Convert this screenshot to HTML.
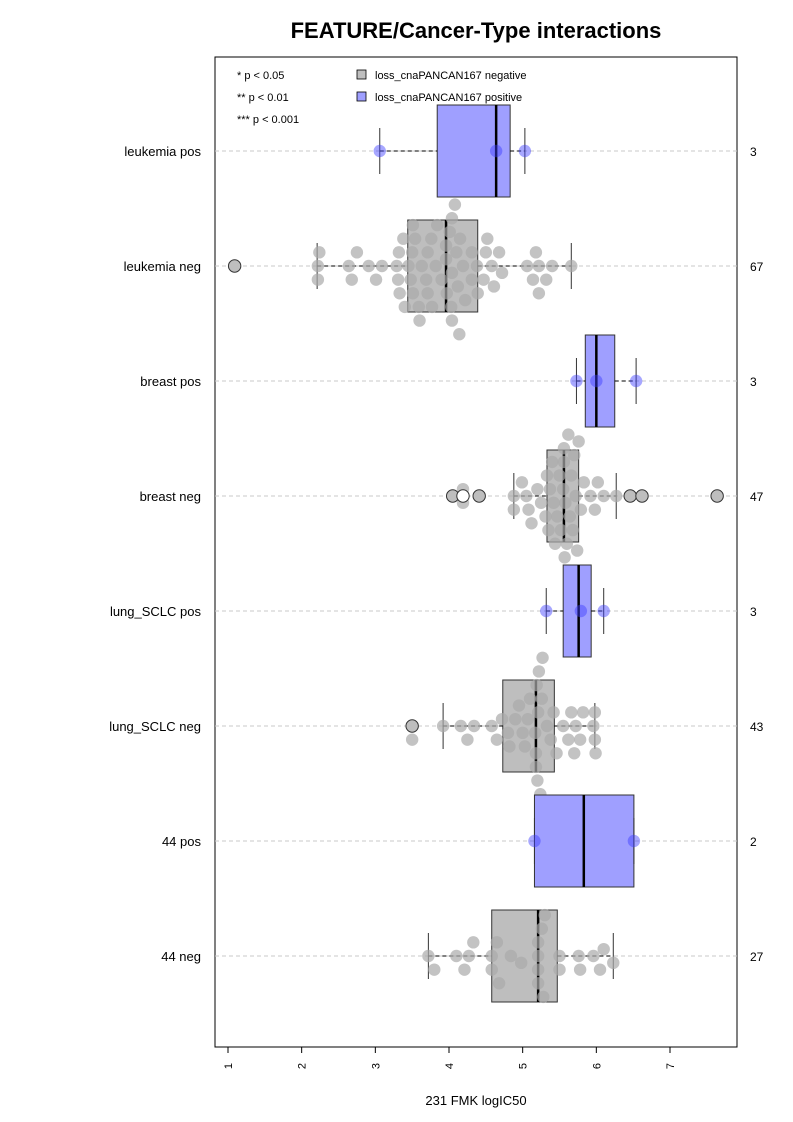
<!DOCTYPE html>
<html><head><meta charset="utf-8"><style>
body{margin:0;background:#fff;}
svg{display:block;font-family:"Liberation Sans",Arial,sans-serif;}
</style></head><body>
<svg id="chart" width="793" height="1122" viewBox="0 0 793 1122">
<text x="476" y="38" text-anchor="middle" font-size="22" font-weight="bold">FEATURE/Cancer-Type interactions</text>
<rect x="215" y="57" width="522" height="990" fill="none" stroke="#000" stroke-width="1"/>
<g id="grid"></g><g id="marks"></g><g id="axis"></g>
<g>
<text x="237" y="79" font-size="11">* p &lt; 0.05</text>
<text x="237" y="101" font-size="11">** p &lt; 0.01</text>
<text x="237" y="123" font-size="11">*** p &lt; 0.001</text>
<rect x="357" y="70" width="9" height="9" fill="#bebebe" stroke="#000" stroke-width="0.8"/>
<text x="375" y="79" font-size="11">loss_cnaPANCAN167 negative</text>
<rect x="357" y="92" width="9" height="9" fill="#9f9fff" stroke="#000" stroke-width="0.8"/>
<text x="375" y="101" font-size="11">loss_cnaPANCAN167 positive</text>
</g>
<text x="476" y="1105" text-anchor="middle" font-size="13">231 FMK logIC50</text>
</svg>
<script>
const categories = ["leukemia pos","leukemia neg","breast pos","breast neg","lung_SCLC pos","lung_SCLC neg","44 pos","44 neg"];
const counts = [3,67,3,47,3,43,2,27];
const positive = [true,false,true,false,true,false,true,false];
const q1 = [3.84,3.44,5.85,5.33,5.55,4.73,5.16,4.58];
const medians = [4.64,3.96,6.0,5.56,5.76,5.18,5.83,5.21];
const q3 = [4.83,4.39,6.25,5.76,5.93,5.43,6.51,5.47];
const whiskLo = [3.06,2.21,5.73,4.88,5.32,3.92,5.16,3.72];
const whiskHi = [5.03,5.66,6.54,6.27,6.10,5.98,6.51,6.23];
const outliers = [[],[1.09],[],[4.05,4.19,4.41,6.46,6.62,7.64],[],[3.50],[],[]];
const values = [
 [3.06,4.64,5.03],
 [1.09,2.22,2.22,2.24,2.68,2.64,2.75,3.01,2.91,3.09,3.31,3.29,3.32,3.33,3.40,3.38,3.50,3.51,3.51,3.59,3.54,3.48,3.63,3.69,3.71,3.77,3.82,3.84,3.76,3.71,3.96,3.96,3.97,4.04,4.03,4.01,4.14,4.10,4.12,4.15,4.19,4.04,4.04,4.31,4.31,4.39,4.38,4.50,4.47,4.61,4.58,4.68,4.72,4.52,5.06,5.14,5.22,5.22,5.18,5.40,5.32,5.66,3.90,3.60,4.22,3.45,4.08],
 [5.73,6.0,6.54],
 [4.05,4.19,4.19,4.41,6.46,6.62,7.64,4.88,4.88,4.99,5.08,5.05,5.12,5.20,5.25,5.33,5.31,5.35,5.37,5.40,5.42,5.44,5.47,5.50,5.52,5.55,5.56,5.56,5.57,5.58,5.60,5.62,5.64,5.65,5.66,5.68,5.70,5.72,5.74,5.76,5.79,5.83,5.92,5.98,6.02,6.10,6.27],
 [5.32,5.79,6.10],
 [3.50,3.50,3.92,4.16,4.25,4.34,4.58,4.65,4.72,4.80,4.82,4.90,4.95,5.00,5.03,5.07,5.10,5.17,5.18,5.18,5.19,5.20,5.21,5.22,5.24,5.26,5.27,5.30,5.33,5.38,5.42,5.46,5.55,5.62,5.66,5.70,5.72,5.78,5.82,5.96,5.98,5.98,5.99],
 [5.16,6.51],
 [3.72,3.80,4.10,4.21,4.27,4.33,4.58,4.58,4.68,4.65,4.84,4.98,5.21,5.21,5.21,5.21,5.26,5.28,5.30,5.50,5.50,5.76,5.78,5.96,6.05,6.10,6.23]
];
const xTicks = [1,2,3,4,5,6,7];

const NS="http://www.w3.org/2000/svg";
const xs = v => 228 + (v-1)*(442/6);
const ys = i => 151 + i*115;
function mk(tag, attrs, parent){const e=document.createElementNS(NS,tag);for(const k in attrs)e.setAttribute(k,attrs[k]);parent.appendChild(e);return e;}
const grid=document.getElementById('grid'), marks=document.getElementById('marks'), axis=document.getElementById('axis');
const R=6.2, H=46;
categories.forEach((c,i)=>{
  const y=ys(i);
  const g=mk('line',{x1:215,x2:737,y1:y,y2:y,stroke:'#c8c8c8','stroke-dasharray':'4,3'},grid);
  
  const lab=mk('text',{x:201,y:y+5,'text-anchor':'end','font-size':13},axis);lab.textContent=c;
  
  const cnt=mk('text',{x:750,y:y+5,'font-size':12},axis);cnt.textContent=counts[i];
  
  const grp=mk('g',{},marks);
  
  
  const fill=positive[i]?'#9f9fff':'#bebebe';
  const box=mk('rect',{x:xs(q1[i]),y:y-H,width:xs(q3[i])-xs(q1[i]),height:2*H,fill:fill,stroke:'#333','stroke-width':1},grp);
  
  [[whiskLo[i],q1[i]],[q3[i],whiskHi[i]]].forEach(w=>{
    const l=mk('line',{x1:xs(w[0]),x2:xs(w[1]),y1:y,y2:y,stroke:'#000','stroke-dasharray':'4,3'},grp);
    
  });
  [whiskLo[i],whiskHi[i]].forEach(w=>{
    const l=mk('line',{x1:xs(w),x2:xs(w),y1:y-23,y2:y+23,stroke:'#333'},grp);
    
  });
  const med=mk('line',{x1:xs(medians[i]),x2:xs(medians[i]),y1:y-H,y2:y+H,stroke:'#000','stroke-width':2.5},grp);
  
  // beeswarm
  const placed=[];
  const sorted=values[i].map(v=>xs(v)).sort((a,b)=>a-b);
  const pcol=positive[i]?'rgba(60,60,255,0.45)':'rgba(170,170,170,0.7)';
  sorted.forEach(px=>{
    let best=0;
    for(let k=0;k<40;k++){
      const off=(k===0?0:(k%2?1:-1)*Math.ceil(k/2)*R*1.1);
      if(placed.every(p=>Math.hypot(p[0]-px,p[1]-off)>=2*R*0.95)){best=off;break;}
    }
    placed.push([px,best]);
    const pt=mk('circle',{cx:px,cy:y+best,r:R,fill:pcol},grp);
    
  });
  outliers[i].forEach(o=>{
    const oc=mk('circle',{cx:xs(o),cy:y,r:R,fill:(o===4.19?'#fff':'#bebebe'),stroke:'#333','stroke-width':1},grp);
    
  });
});
const ax=mk('line',{x1:xs(1),x2:xs(7),y1:1047,y2:1047,stroke:'#000'},axis);

xTicks.forEach(t=>{
  const tk=mk('line',{x1:xs(t),x2:xs(t),y1:1047,y2:1053,stroke:'#000'},axis);
  
  const tl=mk('text',{x:xs(t)+4,y:1066,'font-size':11,'text-anchor':'middle',transform:`rotate(-90 ${xs(t)+4} 1066)`},axis);
  tl.textContent=t;
  
});
</script>
</body></html>
